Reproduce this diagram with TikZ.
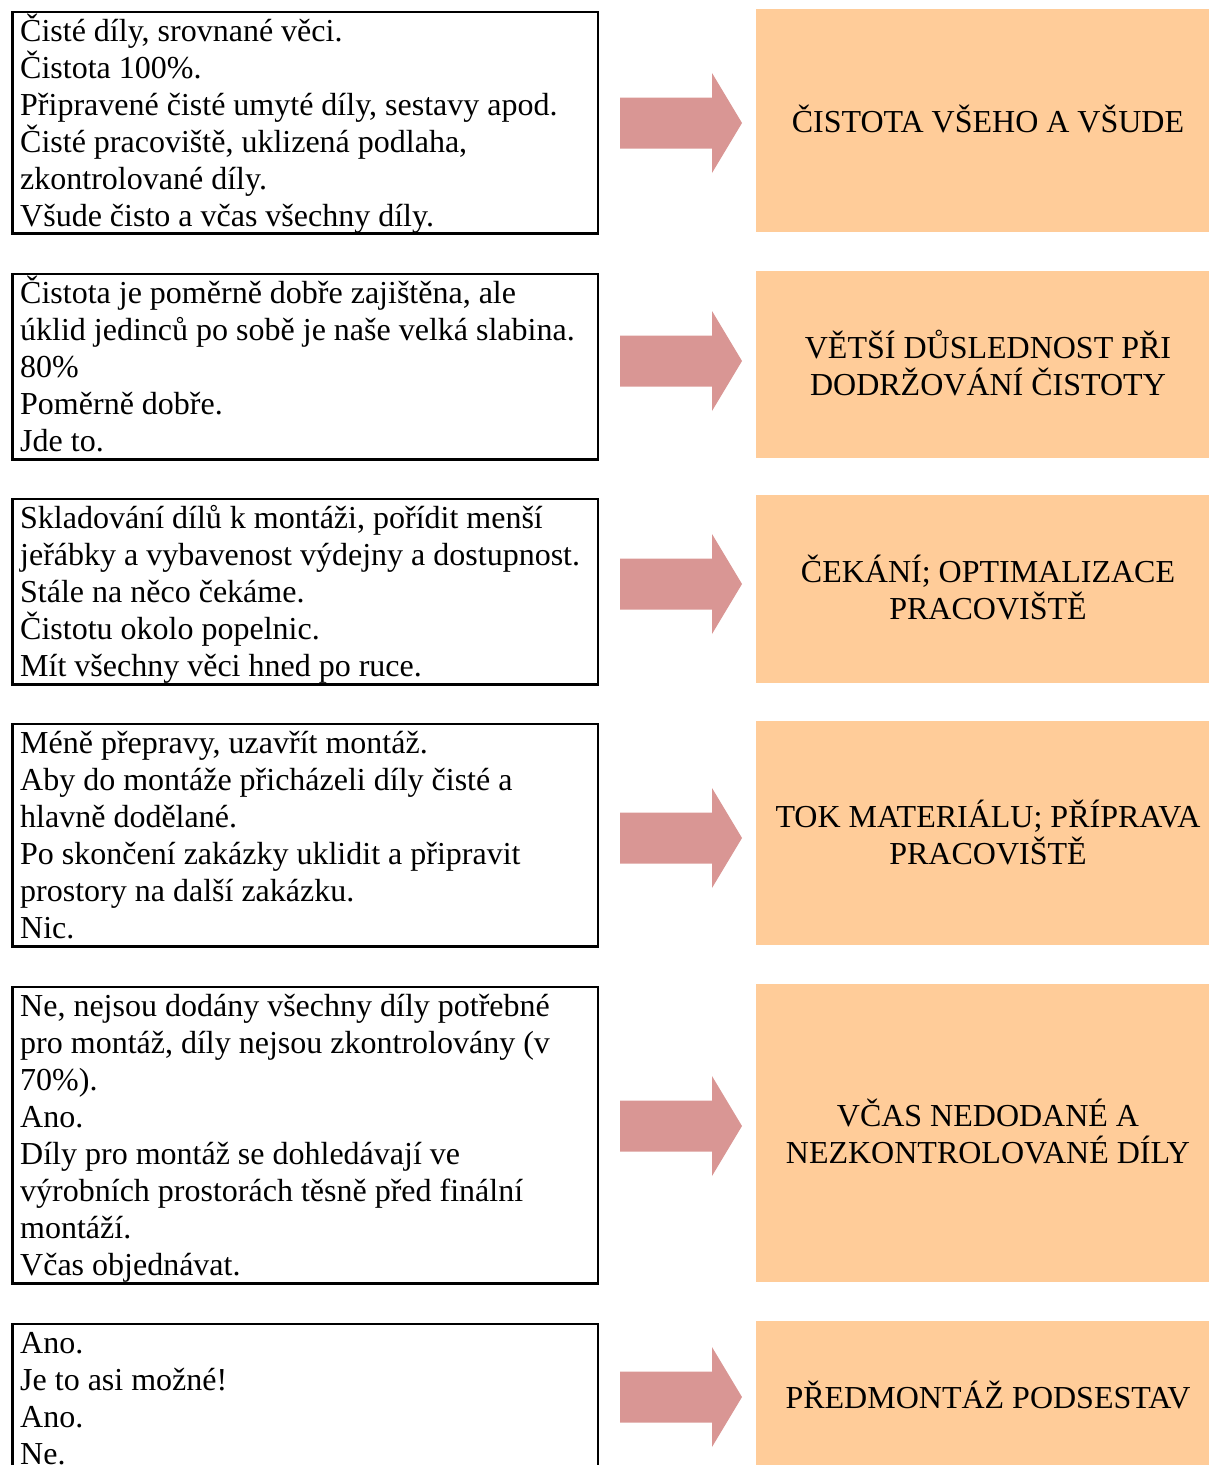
\documentclass[tikz,border=0pt]{standalone}
\usepackage{fontspec}
\setmainfont{Liberation Serif}
\definecolor{peach}{HTML}{FFCC99}
\definecolor{rosearrow}{HTML}{D99694}
\newcommand{\firstline}{\rule{0pt}{30pt}}
\begin{document}
\begin{tikzpicture}[x=1pt,y=-1pt,
  textfont/.style={font=\fontsize{32}{37}\selectfont},
  notebox/.style={draw=black, line width=2.8pt, rectangle, inner sep=0pt, anchor=north west, minimum width=585.5pt},
  goalbox/.style={fill=peach, draw=none, rectangle, inner sep=0pt, anchor=north west, minimum width=484pt},
  notetext/.style={textfont, anchor=north west, inner sep=0pt, align=left},
  goaltext/.style={textfont, anchor=north, inner sep=0pt, align=center},
  blockarrow/.pic={\fill[rosearrow] (0,-25.5) -- (92,-25.5) -- (92,-50) -- (122,0) -- (92,50) -- (92,25.5) -- (0,25.5) -- cycle;}
]
\useasboundingbox (0,0) rectangle (1209,1465);
\clip (0,0) rectangle (1209,1465);

% left column: note boxes
\node[notebox, minimum height=221.5pt] (n1) at (11,10.5) {};
\node[notebox, minimum height=185.5pt] (n2) at (11,272.5) {};
\node[notebox, minimum height=185.5pt] (n3) at (11,497.5) {};
\node[notebox, minimum height=222.5pt] (n4) at (11,722.5) {};
\node[notebox, minimum height=296.5pt] (n5) at (11,985.5) {};
\node[notebox, minimum height=200pt] (n6) at (11,1322.5) {};

\node[notetext] (t1) at (20,11) {\firstline Čisté díly, srovnané věci.\\
Čistota 100\%.\\
Připravené čisté umyté díly, sestavy apod.\\
Čisté pracoviště, uklizená podlaha,\\
zkontrolované díly.\\
Všude čisto a včas všechny díly.};

\node[notetext] (t2) at (20,273) {\firstline Čistota je poměrně dobře zajištěna, ale\\
úklid jedinců po sobě je naše velká slabina.\\
80\%\\
Poměrně dobře.\\
Jde to.};

\node[notetext] (t3) at (20,498) {\firstline Skladování dílů k montáži, pořídit menší\\
jeřábky a vybavenost výdejny a dostupnost.\\
Stále na něco čekáme.\\
Čistotu okolo popelnic.\\
Mít všechny věci hned po ruce.};

\node[notetext] (t4) at (20,723) {\firstline Méně přepravy, uzavřít montáž.\\
Aby do montáže přicházeli díly čisté a\\
hlavně dodělané.\\
Po skončení zakázky uklidit a připravit\\
prostory na další zakázku.\\
Nic.};

\node[notetext] (t5) at (20,986) {\firstline Ne, nejsou dodány všechny díly potřebné\\
pro montáž, díly nejsou zkontrolovány (v\\
70\%).\\
Ano.\\
Díly pro montáž se dohledávají ve\\
výrobních prostorách těsně před finální\\
montáží.\\
Včas objednávat.};

\node[notetext] (t6) at (20,1323) {\firstline Ano.\\
Je to asi možné!\\
Ano.\\
Ne.};

% right column: goal boxes
\node[goalbox, minimum height=223pt] (g1) at (756,9) {};
\node[goalbox, minimum height=187pt] (g2) at (756,271) {};
\node[goalbox, minimum height=188pt] (g3) at (756,495) {};
\node[goalbox, minimum height=224pt] (g4) at (756,721) {};
\node[goalbox, minimum height=298pt] (g5) at (756,984) {};
\node[goalbox, minimum height=200pt] (g6) at (756,1321) {};

\node[goaltext] (h1) at (988,102) {\firstline ČISTOTA VŠEHO A VŠUDE};
\node[goaltext] (h2) at (988,328) {\firstline VĚTŠÍ DŮSLEDNOST PŘI\\ DODRŽOVÁNÍ ČISTOTY};
\node[goaltext] (h3) at (988,552) {\firstline ČEKÁNÍ; OPTIMALIZACE\\ PRACOVIŠTĚ};
\node[goaltext] (h4) at (988,797) {\firstline TOK MATERIÁLU; PŘÍPRAVA\\ PRACOVIŠTĚ};
\node[goaltext] (h5) at (988,1096) {\firstline VČAS NEDODANÉ A\\ NEZKONTROLOVANÉ DÍLY};
\node[goaltext] (h6) at (988,1378) {\firstline PŘEDMONTÁŽ PODSESTAV};

% block arrows between the columns
\pic (a1) at (620,123) {blockarrow};
\pic (a2) at (620,361) {blockarrow};
\pic (a3) at (620,584) {blockarrow};
\pic (a4) at (620,838) {blockarrow};
\pic (a5) at (620,1126) {blockarrow};
\pic (a6) at (620,1397) {blockarrow};
\end{tikzpicture}
\end{document}
